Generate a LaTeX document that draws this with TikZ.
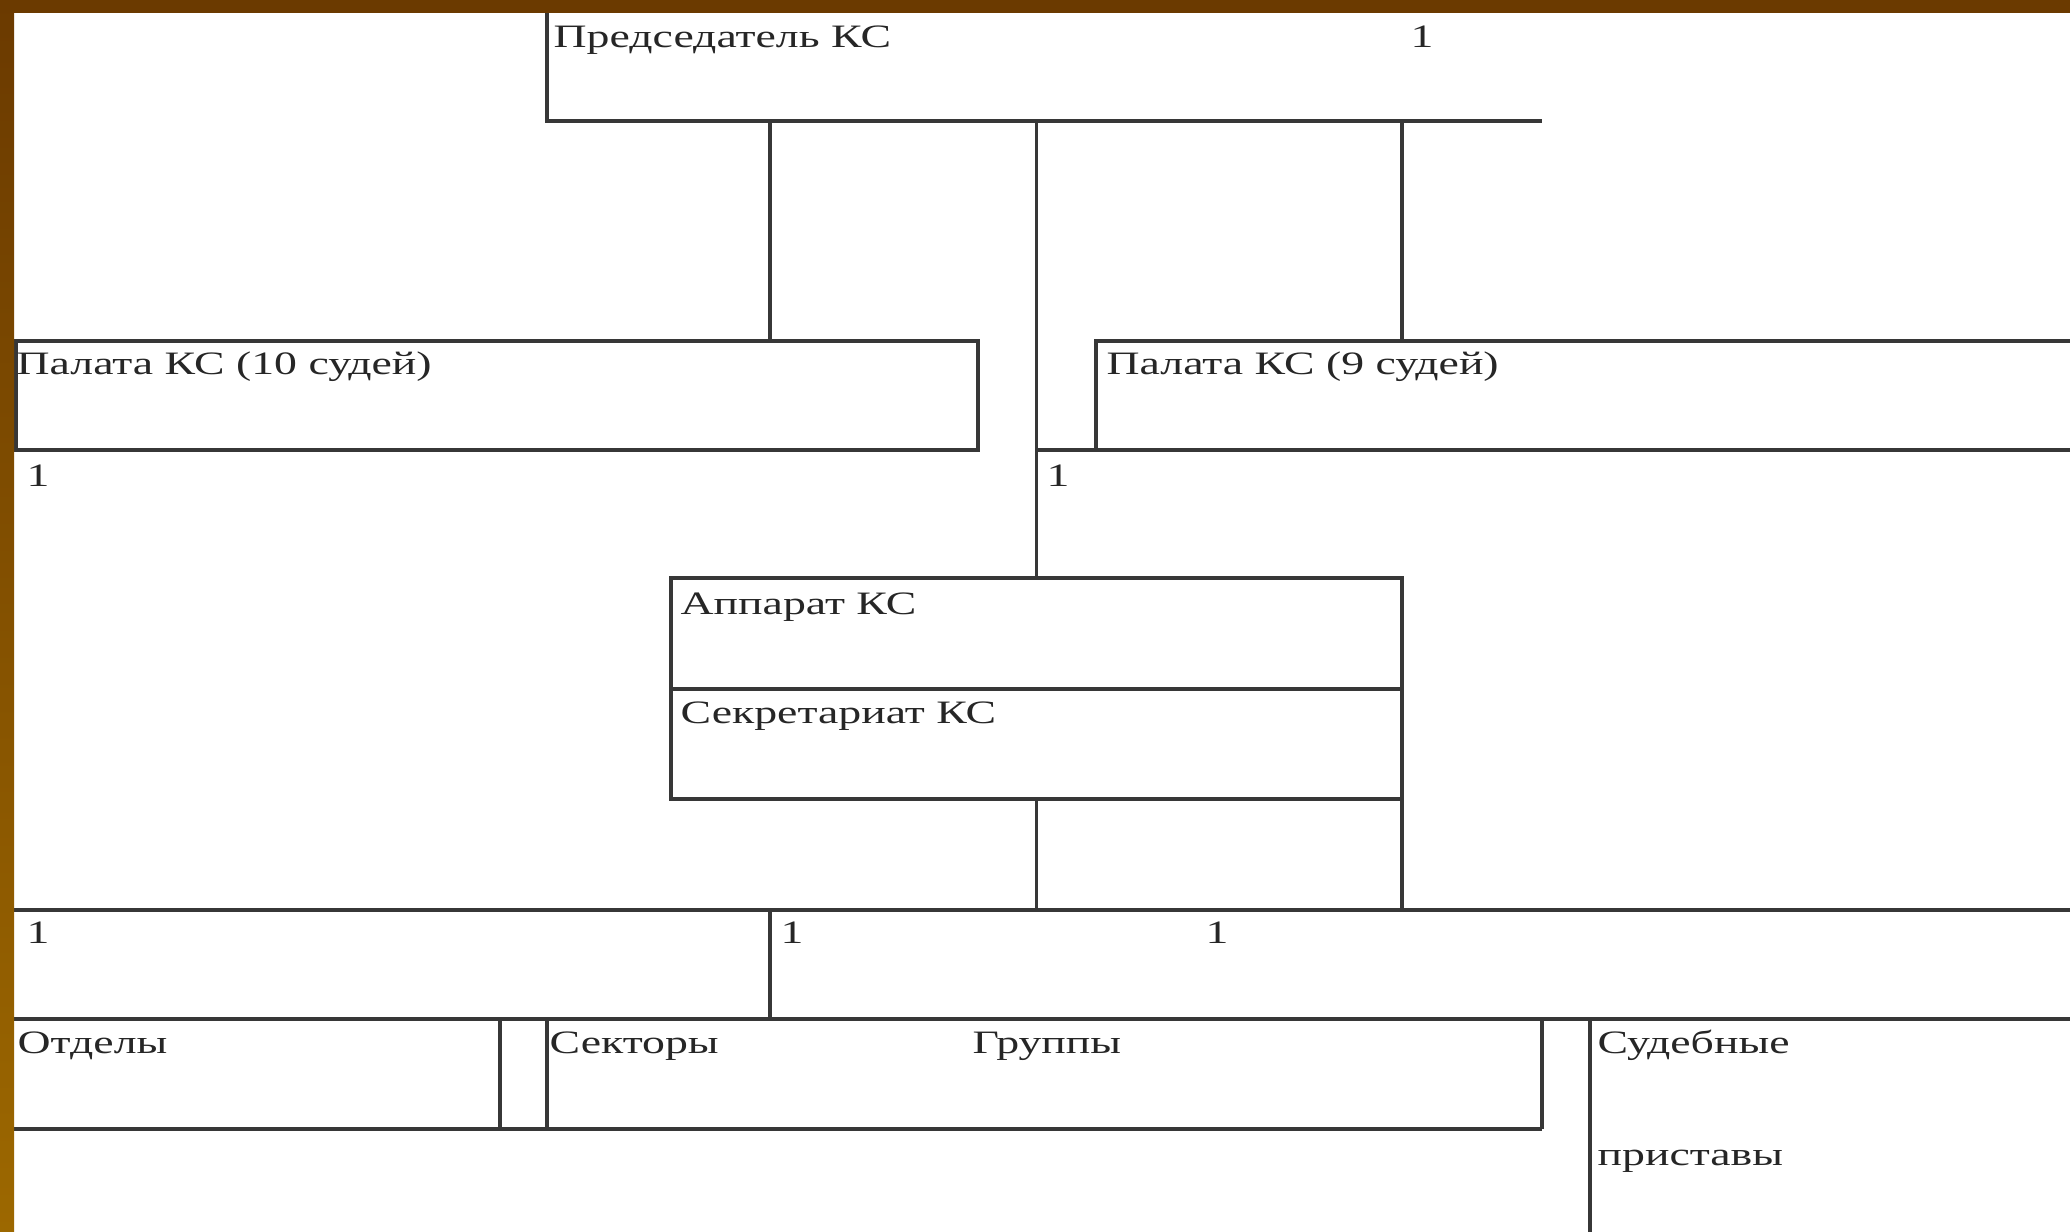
\documentclass[tikz,border=0pt]{standalone}
\usepackage{fontspec}
\setmainfont{Liberation Serif}[FakeStretch=1.4]
\definecolor{barbrown}{RGB}{107,58,0}
\definecolor{bargold}{RGB}{165,112,0}
\definecolor{linegray}{RGB}{55,55,55}
\begin{document}
\begin{tikzpicture}[
  x=0.1mm, y=-0.1mm,
  box/.style={anchor=north west, inner sep=0pt, outer sep=0pt, draw=linegray, line width=0.32mm},
  hollow/.style={anchor=north west, inner sep=0pt, outer sep=0pt},
  link/.style={draw=linegray, line width=0.32mm},
  txt/.style={anchor=base west, inner sep=0pt, font=\fontsize{9.3}{11}\selectfont, text=black!85}
]
  \useasboundingbox (0,0) rectangle (2070,1232);
  \fill[white] (0,0) rectangle (2070,1232);

  % --- ПРЕДСЕДАТЕЛЬ ---
  \node[hollow, minimum width=99.5mm, minimum height=12.1mm] (chair) at (547,0) {};
  \draw[link] (chair.north west) -- (chair.south west) -- (chair.south east);
  \node[txt] (tChair) at (553,48) {Председатель КС};
  \node[txt] (nChair) at (1410,48) {1};

  % --- ПАЛАТЫ ---
  \node[box, minimum width=96.2mm, minimum height=10.9mm] (ch10) at (16,341) {};
  \node[hollow, minimum width=97.4mm, minimum height=10.9mm] (ch9) at (1096,341) {};
  \node[txt] (tCh10) at (16,375) {Палата КС (10 судей)};
  \node[txt] (tCh9) at (1106,375) {Палата КС (9 судей)};
  \node[txt] (nCh10) at (26,487) {1};
  \node[txt] (nCh9) at (1046,487) {1};

  % --- АППАРАТ ---
  \node[box, minimum width=73.1mm, minimum height=11.1mm] (app) at (671,578) {};
  \node[box, minimum width=73.1mm, minimum height=11.0mm] (sec) at (671,689) {};
  \node[txt] (tApp) at (680,615) {Аппарат КС};
  \node[txt] (tSec) at (680,723) {Секретариат КС};

  % --- ПОДРАЗДЕЛЕНИЯ ---
  \node[hollow, minimum width=48.6mm, minimum height=11.0mm] (dep) at (14,1019) {};
  \node[hollow, minimum width=99.5mm, minimum height=11.0mm] (sect) at (547,1019) {};
  \node[hollow, minimum width=48.0mm, minimum height=21.3mm] (bail) at (1590,1019) {};
  \node[txt] (nBusL) at (26,943) {1};
  \node[txt] (nBusM) at (780,943) {1};
  \node[txt] (nBusR) at (1205,943) {1};
  \node[txt] (tDep) at (17,1053) {Отделы};
  \node[txt] (tSect) at (549,1053) {Секторы};
  \node[txt] (tGrp) at (972,1053) {Группы};
  \node[txt] (tBail) at (1597,1053) {Судебные};
  \node[txt] (tBail2) at (1597,1165) {приставы};

  \coordinate (col1) at (770,0);
  \coordinate (busA) at (14,910);
  \coordinate (busAend) at (2070,910);
  \coordinate (busB) at (14,1019);
  \coordinate (busBend) at (2070,1019);

  % --- СВЯЗИ ---
  \draw[link] (chair.south -| col1) -- (ch10.north -| col1);
  \draw[link] (chair.south -| app.north) -- (app.north);
  \draw[link] (chair.south -| app.north east) -- (ch9.north -| app.north east);
  \draw[link] (ch9.north east) -- (ch9.north west) -- (ch9.south west);
  \draw[link] (ch9.south east) -- (ch9.south west -| app.north);
  \draw[link] (sec.south) -- (sec.south |- busA);
  \draw[link] (sec.south east) -- (sec.south east |- busA);
  \draw[link] (busA) -- (busAend);
  \draw[link] (busA -| col1) -- (sect.north -| col1);
  \draw[link] (busB) -- (busBend);
  \draw[link] (dep.north east) -- (dep.south east);
  \draw[link] (dep.south west) -- (sect.south east);
  \draw[link] (sect.north west) -- (sect.south west);
  \draw[link] (sect.north east) -- (sect.south east);
  \draw[link] (bail.north west) -- (bail.south west);

  % --- РАМКА ---
  \fill[barbrown] (0,0) rectangle (2070,13);
  \shade[top color=barbrown, middle color=bargold, bottom color=bargold!85!barbrown] (0,0) rectangle (14,1232);
\end{tikzpicture}
\end{document}
